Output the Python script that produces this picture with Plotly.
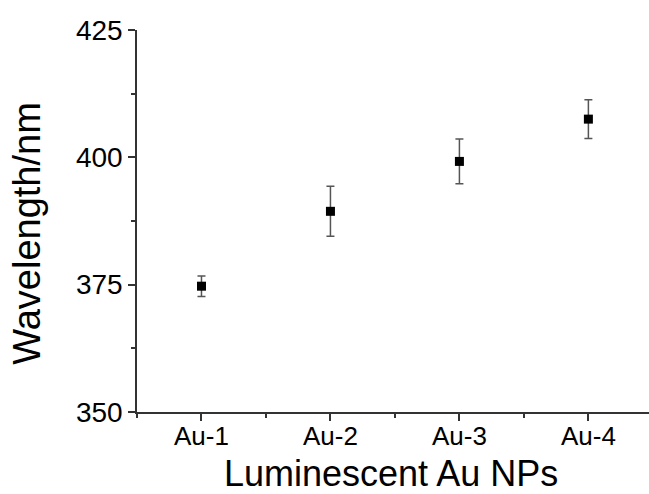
import plotly.graph_objects as go

# Emission wavelength of the luminescent Au nanoparticle samples
samples = ["Au-1", "Au-2", "Au-3", "Au-4"]
wavelength_nm = [374.7, 389.4, 399.2, 407.5]
wavelength_err = [2.0, 4.9, 4.4, 3.8]
y_ticks = [350, 375, 400, 425]

positions = list(range(1, len(samples) + 1))

axis_color = "#333333"
font_family = "Liberation Sans, Arial, sans-serif"

fig = go.Figure()
fig.add_trace(go.Scatter(
    x=positions,
    y=wavelength_nm,
    mode="markers",
    marker=dict(symbol="square", size=9, color="black"),
    error_y=dict(type="data", array=wavelength_err, visible=True,
                 color="#555555", thickness=1.5, width=4),
    showlegend=False,
))

fig.update_layout(
    width=649, height=494,
    margin=dict(l=137, r=0, t=30, b=82),
    plot_bgcolor="white", paper_bgcolor="white",
    font=dict(family=font_family, color="black"),
)

fig.update_xaxes(
    range=[0.5, 4.47],
    tickvals=positions, ticktext=samples,
    ticks="outside", ticklen=7, tickwidth=1.5, tickcolor=axis_color,
    minor=dict(dtick=0.5, tick0=0.5, ticks="outside", ticklen=4,
               tickwidth=1.5, tickcolor=axis_color),
    showline=True, linecolor=axis_color, linewidth=1.5,
    showgrid=False, zeroline=False,
    tickfont=dict(size=26),
    ticklabelstandoff=-7,
)

fig.update_yaxes(
    range=[350, 425],
    tickvals=y_ticks,
    ticks="outside", ticklen=7, tickwidth=1.5, tickcolor=axis_color,
    minor=dict(dtick=12.5, tick0=350, ticks="outside", ticklen=4,
               tickwidth=1.5, tickcolor=axis_color),
    showline=True, linecolor=axis_color, linewidth=1.5,
    showgrid=False, zeroline=False,
    tickfont=dict(size=28),
)

# Axis titles placed as paper-anchored annotations
fig.add_annotation(
    text="Luminescent Au NPs", xref="paper", yref="paper",
    x=0.497, y=-0.162, xanchor="center", yanchor="middle",
    showarrow=False, font=dict(size=36),
)
fig.add_annotation(
    text="Wavelength/nm", xref="paper", yref="paper",
    x=-0.215, y=0.469, xanchor="center", yanchor="middle",
    textangle=-90, showarrow=False, font=dict(size=38),
)

fig.write_html("out.html")
